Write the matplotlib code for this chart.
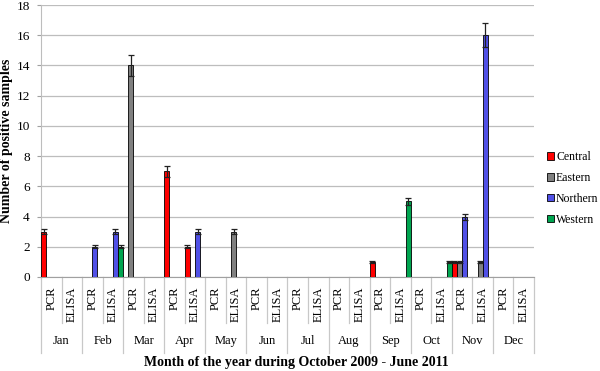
#!/usr/bin/env python3
"""Positive samples by month and test type, grouped by region."""

import matplotlib

matplotlib.use("Agg")
import matplotlib.pyplot as plt
from matplotlib.patches import Patch

plt.rcParams["font.family"] = ["Liberation Serif", "DejaVu Serif"]

MONTHS = ["Jan", "Feb", "Mar", "Apr", "May", "Jun",
          "Jul", "Aug", "Sep", "Oct", "Nov", "Dec"]
TESTS = ["PCR", "ELISA"]
SERIES = ["Central", "Eastern", "Northern", "Western"]
COLORS = ["#FF0000", "#808080", "#5050E6", "#00A550"]

# one value per (month, test) category: Jan PCR, Jan ELISA, Feb PCR, ...
central = [3, 0, 0, 0, 0, 0, 7, 2, 0, 0, 0, 0,
           0, 0, 0, 0, 1, 0, 0, 0, 1, 0, 0, 0]
eastern = [0, 0, 0, 0, 14, 0, 0, 0, 0, 3, 0, 0,
           0, 0, 0, 0, 0, 0, 0, 0, 1, 1, 0, 0]
northern = [0, 0, 2, 3, 0, 0, 0, 3, 0, 0, 0, 0,
            0, 0, 0, 0, 0, 0, 0, 0, 4, 16, 0, 0]
western = [0, 0, 0, 2, 0, 0, 0, 0, 0, 0, 0, 0,
           0, 0, 0, 0, 0, 5, 0, 1, 0, 0, 0, 0]

central_err = [0.15, 0, 0, 0, 0, 0, 0.35, 0.1, 0, 0, 0, 0,
               0, 0, 0, 0, 0.05, 0, 0, 0, 0.05, 0, 0, 0]
eastern_err = [0, 0, 0, 0, 0.7, 0, 0, 0, 0, 0.15, 0, 0,
               0, 0, 0, 0, 0, 0, 0, 0, 0.05, 0.05, 0, 0]
northern_err = [0, 0, 0.1, 0.15, 0, 0, 0, 0.15, 0, 0, 0, 0,
                0, 0, 0, 0, 0, 0, 0, 0, 0.2, 0.8, 0, 0]
western_err = [0, 0, 0, 0.1, 0, 0, 0, 0, 0, 0, 0, 0,
               0, 0, 0, 0, 0, 0.25, 0, 0.05, 0, 0, 0, 0]

values = [central, eastern, northern, western]
errors = [central_err, eastern_err, northern_err, western_err]

fig = plt.figure(figsize=(6.0, 3.71), dpi=100)
ax = fig.add_axes([0.0683, 0.2534, 0.8217, 0.7331])

n_cat = len(MONTHS) * len(TESTS)
width = 0.25
for k, (name, vals, errs, color) in enumerate(zip(SERIES, values, errors, COLORS)):
    xs = [i - 0.375 + k * width for i in range(n_cat)]
    ax.bar(xs, vals, width=width, color=color, edgecolor="black",
           linewidth=0.6, zorder=3)
    ex = [x for x, v in zip(xs, vals) if v > 0]
    ey = [v for v in vals if v > 0]
    ee = [e for e, v in zip(errs, vals) if v > 0]
    ax.errorbar(ex, ey, yerr=ee, fmt="none", ecolor="#222222",
                elinewidth=0.9, capsize=2, capthick=0.9, zorder=4)

ax.set_xlim(-0.5, n_cat - 0.5)
ax.set_ylim(0, 18)
ax.set_yticks(range(0, 19, 2))
ax.tick_params(axis="y", labelsize=9.5, length=3, color="#A0A0A0", pad=5)
ax.set_xticks([])
ax.grid(axis="y", color="#BDBDBD", linewidth=0.9, zorder=0)
for side in ("top", "right"):
    ax.spines[side].set_visible(False)
ax.spines["left"].set_color("#BDBDBD")
ax.spines["bottom"].set_color("#A0A0A0")

ax.set_ylabel("Number of positive samples", fontsize=10, fontweight="bold",
              va="center")
ax.yaxis.set_label_coords(-0.069, 0.5)

# two-level category axis
tr = ax.get_xaxis_transform()
for b in range(n_cat + 1):
    depth = -0.279 if b % 2 == 0 else -0.169
    ax.plot([b - 0.5, b - 0.5], [0, depth], transform=tr, color="#C8C8C8",
            linewidth=0.9, clip_on=False)
for i in range(n_cat):
    ax.text(i, -0.035, TESTS[i % 2], transform=tr, rotation=90,
            ha="center", va="top", fontsize=9)
for m, month in enumerate(MONTHS):
    ax.text(2 * m + 0.5, -0.235, month, transform=tr, ha="center",
            va="center", fontsize=9)
ax.text(0.517, -0.315, "Month of the year during October 2009 - June 2011",
        transform=ax.transAxes, ha="center", va="center", fontsize=10,
        fontweight="bold")

handles = [Patch(facecolor=c, edgecolor="black", linewidth=0.6) for c in COLORS]
fig.legend(handles, SERIES, loc="center left", bbox_to_anchor=(0.912, 0.492),
           frameon=False, fontsize=8.5, handlelength=0.6, handleheight=0.6,
           handletextpad=0.15, labelspacing=0.75, borderpad=0,
           borderaxespad=0)

fig.savefig("out.png", dpi=100)
